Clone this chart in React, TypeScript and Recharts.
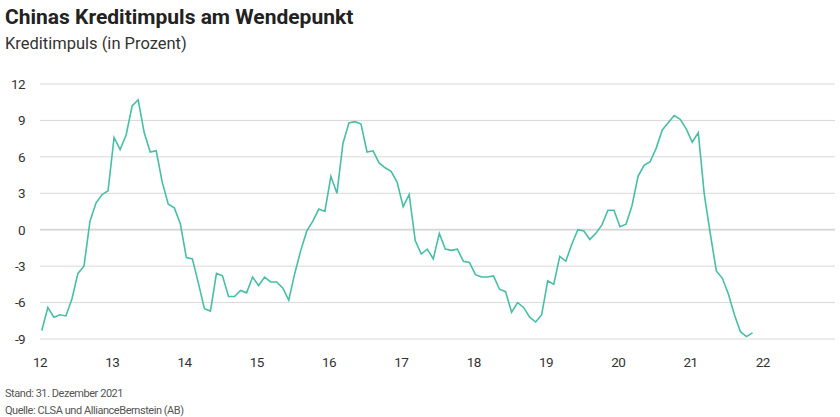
import React from "react";
import { LineChart, Line, XAxis, YAxis, CartesianGrid, ReferenceLine } from "recharts";

// Monthly credit impulse, Jan 2012 – Nov 2021 (percent)
const startYear = 12;
const impulse: number[] = [
  -8.3, -6.4, -7.2, -7.0, -7.1, -5.7, -3.6, -3.0, 0.7, 2.2, 2.9, 3.2,
  7.6, 6.6, 7.8, 10.2, 10.7, 8.0, 6.4, 6.5, 3.9, 2.1, 1.8, 0.5,
  -2.3, -2.4, -4.4, -6.5, -6.7, -3.6, -3.8, -5.5, -5.5, -5.0, -5.2, -3.9,
  -4.6, -3.9, -4.3, -4.3, -4.8, -5.8, -3.6, -1.7, -0.1, 0.7, 1.7, 1.5,
  4.4, 3.0, 7.1, 8.8, 8.9, 8.7, 6.4, 6.5, 5.5, 5.1, 4.8, 3.9,
  1.9, 2.9, -0.9, -2.0, -1.6, -2.4, -0.3, -1.6, -1.7, -1.6, -2.6, -2.7,
  -3.7, -3.9, -3.9, -3.8, -4.9, -5.1, -6.8, -6.0, -6.4, -7.2, -7.6, -7.0,
  -4.2, -4.5, -2.2, -2.6, -1.2, 0.0, -0.1, -0.8, -0.3, 0.4, 1.6, 1.6,
  0.25, 0.45, 2.0, 4.4, 5.3, 5.6, 6.7, 8.2, 8.8, 9.4, 9.1, 8.3,
  7.2, 8.0, 2.9, -0.35, -3.4, -4.0, -5.3, -7.0, -8.4, -8.8, -8.5,
];
const yTicks = [-9, -6, -3, 0, 3, 6, 9, 12];
const xTicks = [12, 13, 14, 15, 16, 17, 18, 19, 20, 21, 22];

const data = impulse.map((v, i) => {
  const year = startYear + Math.floor(i / 12);
  const month = (i % 12) + 1;
  return { t: year + (month - 0.7) / 12, v };
});

const font = "Roboto, 'Liberation Sans', sans-serif";
const tickStyle = { fill: "#333", fontSize: 13.5, fontFamily: font, letterSpacing: "-0.6px" };

export default function App() {
  return (
    <div style={{ position: "absolute", left: 0, top: 0, width: 840, height: 417, background: "#fff", fontFamily: font, overflow: "hidden" }}>
      <div style={{ position: "absolute", left: 5, top: 7, fontSize: 21, lineHeight: "21px", fontWeight: 700, color: "#222", whiteSpace: "nowrap" }}>
        Chinas Kreditimpuls am Wendepunkt
      </div>
      <div style={{ position: "absolute", left: 5, top: 35.5, fontSize: 16.5, lineHeight: "16.5px", color: "#333", whiteSpace: "nowrap" }}>
        Kreditimpuls (in Prozent)
      </div>
      <div style={{ position: "absolute", left: 0, top: 0 }}>
        <LineChart width={840} height={417} data={data} margin={{ top: 84, right: 5, bottom: 48, left: 0 }}>
          <CartesianGrid vertical={false} stroke="#d9d9d9" strokeWidth={1} />
          <ReferenceLine y={0} stroke="#d6d6d6" strokeWidth={1.8} />
          <XAxis
            dataKey="t"
            type="number"
            domain={[12, 23]}
            ticks={xTicks}
            tickLine={false}
            axisLine={false}
            tickMargin={12}
            height={30}
            tick={tickStyle}
            tickFormatter={(v: number) => String(v)}
          />
          <YAxis
            type="number"
            domain={[-9, 12]}
            ticks={yTicks}
            width={40}
            tickLine={false}
            axisLine={false}
            tickMargin={9}
            tick={tickStyle}
          />
          <Line type="linear" dataKey="v" stroke="#47bea7" strokeWidth={1.6} dot={false} isAnimationActive={false} />
        </LineChart>
      </div>
      <div style={{ position: "absolute", left: 5, top: 388, fontSize: 11, lineHeight: "11px", color: "#555", letterSpacing: "-0.45px", whiteSpace: "nowrap" }}>
        Stand: 31. Dezember 2021
      </div>
      <div style={{ position: "absolute", left: 5, top: 405, fontSize: 11, lineHeight: "11px", color: "#555", letterSpacing: "-0.45px", whiteSpace: "nowrap" }}>
        Quelle: CLSA und AllianceBernstein (AB)
      </div>
    </div>
  );
}
